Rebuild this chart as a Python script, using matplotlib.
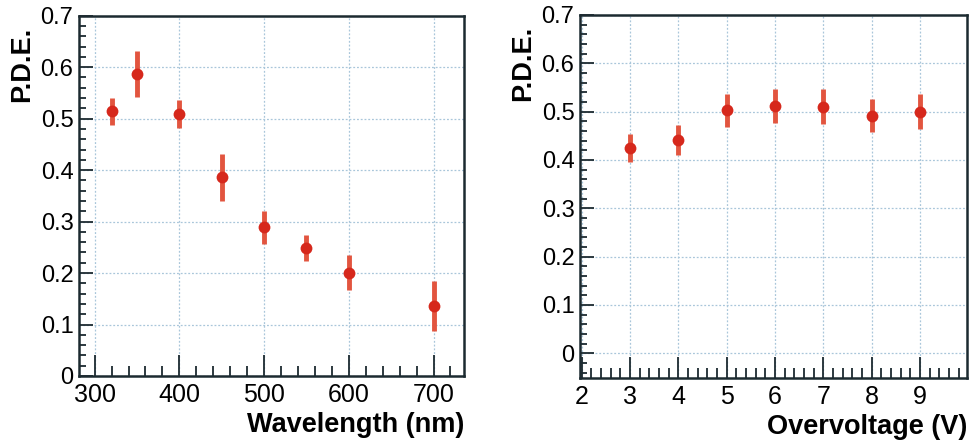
import matplotlib
matplotlib.use("Agg")
import matplotlib.pyplot as plt
from matplotlib.ticker import MultipleLocator, FuncFormatter

plt.rcParams['font.family'] = ['Liberation Sans', 'DejaVu Sans']

# left panel: PDE vs wavelength
wavelength = [320, 350, 400, 450, 500, 550, 600, 700]
pde_wl = [0.514, 0.587, 0.509, 0.386, 0.289, 0.249, 0.201, 0.136]
err_wl = [0.027, 0.044, 0.028, 0.046, 0.032, 0.025, 0.034, 0.049]

# right panel: PDE vs overvoltage
overvoltage = [3, 4, 5, 6, 7, 8, 9]
pde_ov = [0.424, 0.441, 0.503, 0.512, 0.510, 0.492, 0.500]
err_ov = [0.029, 0.031, 0.034, 0.035, 0.036, 0.035, 0.036]

frame_col = '#1c2a30'
grid_col = '#a9c6da'
mark_col = '#d6281c'
bar_col = '#e2553f'

fig = plt.figure(figsize=(9.71, 4.46), dpi=100)
ax1 = fig.add_axes([79 / 971, 1 - 376 / 446, 385 / 971, 360.3 / 446])
ax2 = fig.add_axes([580 / 971, 1 - 377.7 / 446, 387 / 971, 362.7 / 446])


def fmt(v, pos):
    s = '%g' % round(v, 3)
    return s


def style(ax, xlabel):
    for sp in ax.spines.values():
        sp.set_color(frame_col)
        sp.set_linewidth(1.8)
    ax.grid(True, which='major', color=grid_col, linestyle=(0, (1.5, 1.5)), linewidth=0.9)
    ax.set_axisbelow(True)
    ax.tick_params(which='both', direction='in', color=frame_col, width=1.3,
                   top=False, right=False)
    ax.tick_params(axis='x', which='major', length=15, labelsize=18, pad=5)
    ax.tick_params(axis='x', which='minor', length=7)
    ax.tick_params(axis='y', which='major', length=10, labelsize=17, pad=4)
    ax.tick_params(axis='y', which='minor', length=5)
    ax.yaxis.set_major_locator(MultipleLocator(0.1))
    ax.yaxis.set_minor_locator(MultipleLocator(0.02))
    ax.yaxis.set_major_formatter(FuncFormatter(fmt))
    ax.text(1.0, -0.136, xlabel, transform=ax.transAxes, ha='right', va='center',
            fontsize=19.5, fontweight='bold')
    ax.text(-0.148, 0.97, 'P.D.E.', transform=ax.transAxes, ha='center', va='top',
            rotation=90, fontsize=19.5, fontweight='bold')


ax1.errorbar(wavelength, pde_wl, yerr=err_wl, fmt='o', color=mark_col,
             ecolor=bar_col, elinewidth=3.5, capsize=0, markersize=8.5,
             markeredgewidth=0, zorder=3)
ax1.set_xlim(281.5, 736)
ax1.set_ylim(0, 0.7)
ax1.xaxis.set_major_locator(MultipleLocator(100))
ax1.xaxis.set_minor_locator(MultipleLocator(20))
style(ax1, 'Wavelength (nm)')

ax2.errorbar(overvoltage, pde_ov, yerr=err_ov, fmt='o', color=mark_col,
             ecolor=bar_col, elinewidth=3.5, capsize=0, markersize=8.5,
             markeredgewidth=0, zorder=3)
ax2.set_xlim(1.965, 9.97)
ax2.set_ylim(-0.0505, 0.7)
ax2.xaxis.set_major_locator(MultipleLocator(1))
ax2.xaxis.set_minor_locator(MultipleLocator(0.2))
style(ax2, 'Overvoltage (V)')

fig.savefig('out.png', dpi=100)
